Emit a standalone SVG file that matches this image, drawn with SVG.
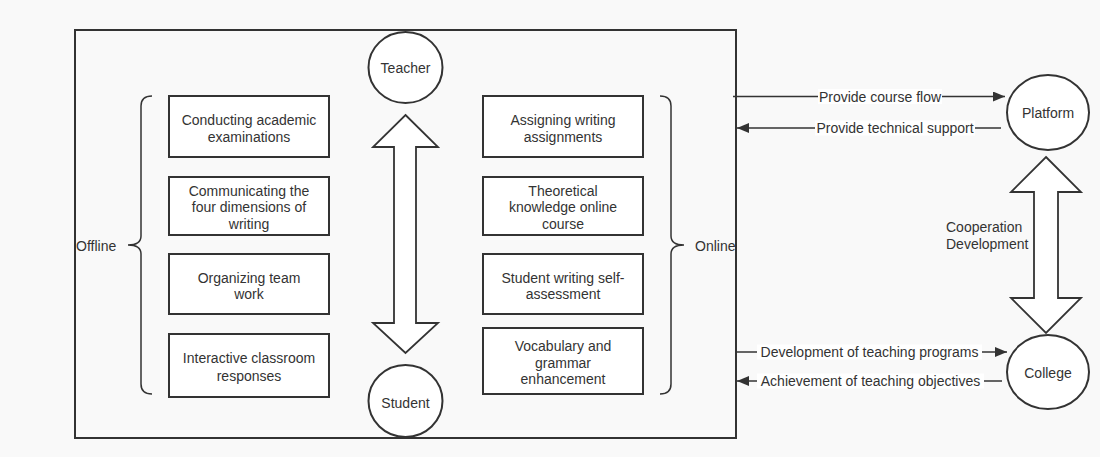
<svg xmlns="http://www.w3.org/2000/svg" width="1100" height="457" viewBox="0 0 1100 457">
<defs>
<style>
.box{fill:#fff;stroke:#333;stroke-width:2}
.circ{fill:#fff;stroke:#333;stroke-width:2}
.t{font-family:"Liberation Sans",Arial,sans-serif;font-size:14px;fill:#333;text-anchor:middle}
.tl{font-family:"Liberation Sans",Arial,sans-serif;font-size:14px;fill:#333}
.line{stroke:#333;stroke-width:1.5;fill:none}
.big{fill:#fff;stroke:#333;stroke-width:1.8;stroke-linejoin:miter}
.lbg{fill:#fff}
</style>
<marker id="ah" viewBox="0 0 12 10" refX="12" refY="5" markerWidth="12" markerHeight="10" markerUnits="userSpaceOnUse" orient="auto">
<path d="M0,0 L12,5 L0,10 Z" fill="#333"/>
</marker>
</defs>
<rect x="0" y="0" width="1100" height="457" fill="#f9f9f9"/>
<g id="frame">
<rect x="75" y="30" width="661" height="408" fill="none" stroke="#333" stroke-width="2"/>
</g>
<g id="teacher">
<ellipse class="circ" cx="405.5" cy="67.5" rx="37" ry="35.5"/>
<text class="t" x="405.5" y="72.5">Teacher</text>
</g>
<g id="student">
<ellipse class="circ" cx="405.5" cy="401" rx="37" ry="36"/>
<text class="t" x="405.5" y="408">Student</text>
</g>
<g id="teacher-student-arrow">
<polygon class="big" points="405.5,115 438,147 416,147 416,323 438,323 405.5,353 373,323 394,323 394,147 373,147"/>
</g>
<g id="offline-brace">
<path class="line" d="M152,96 Q141,96 141,106 L141,236 Q141,245 128,245 Q141,245 141,254 L141,384 Q141,394 152,394"/>
<text class="tl" x="76" y="251">Offline</text>
</g>
<g id="online-brace">
<path class="line" d="M660,96 Q671,96 671,106 L671,236 Q671,245 684,245 Q671,245 671,254 L671,384 Q671,394 660,394"/>
<text class="tl" x="695" y="251">Online</text>
</g>
<g id="off1">
<rect class="box" x="169" y="96" width="160" height="61"/>
<text class="t" x="249" y="125">Conducting academic</text>
<text class="t" x="249" y="142">examinations</text>
</g>
<g id="off2">
<rect class="box" x="169" y="177" width="160" height="58"/>
<text class="t" x="249" y="196">Communicating the</text>
<text class="t" x="249" y="212">four dimensions of</text>
<text class="t" x="249" y="229">writing</text>
</g>
<g id="off3">
<rect class="box" x="169" y="254" width="160" height="60"/>
<text class="t" x="249" y="283">Organizing team</text>
<text class="t" x="249" y="299">work</text>
</g>
<g id="off4">
<rect class="box" x="169" y="334" width="160" height="63"/>
<text class="t" x="249" y="363">Interactive classroom</text>
<text class="t" x="249" y="381">responses</text>
</g>
<g id="on1">
<rect class="box" x="483" y="96" width="160" height="61"/>
<text class="t" x="563" y="125">Assigning writing</text>
<text class="t" x="563" y="142">assignments</text>
</g>
<g id="on2">
<rect class="box" x="483" y="177" width="160" height="58"/>
<text class="t" x="563" y="196">Theoretical</text>
<text class="t" x="563" y="212">knowledge online</text>
<text class="t" x="563" y="229">course</text>
</g>
<g id="on3">
<rect class="box" x="483" y="254" width="160" height="60"/>
<text class="t" x="563" y="283">Student writing self-</text>
<text class="t" x="563" y="299">assessment</text>
</g>
<g id="on4">
<rect class="box" x="483" y="328" width="160" height="66"/>
<text class="t" x="563" y="351">Vocabulary and</text>
<text class="t" x="563" y="368">grammar</text>
<text class="t" x="563" y="384">enhancement</text>
</g>
<g id="platform">
<ellipse class="circ" cx="1048" cy="112.5" rx="41" ry="37.5"/>
<text class="t" x="1048" y="118">Platform</text>
</g>
<g id="college">
<ellipse class="circ" cx="1048" cy="372" rx="41" ry="37"/>
<text class="t" x="1048" y="378">College</text>
</g>
<g id="cooperation">
<polygon class="big" points="1046,157 1081,192 1058,192 1058,298 1081,298 1046,333 1011,298 1034,298 1034,192 1011,192"/>
<text class="tl" x="946" y="232">Cooperation</text>
<text class="tl" x="946" y="249">Development</text>
</g>
<g id="connectors">
<line class="line" x1="733" y1="96.5" x2="1005" y2="96.5" marker-end="url(#ah)"/>
<line class="line" x1="1001" y1="128" x2="737" y2="128" marker-end="url(#ah)"/>
<line class="line" x1="736" y1="352" x2="1007" y2="352" marker-end="url(#ah)"/>
<line class="line" x1="1002" y1="381" x2="737" y2="381" marker-end="url(#ah)"/>
<rect class="lbg" x="818" y="89" width="124" height="15"/>
<text class="t" x="880" y="101.5">Provide course flow</text>
<rect class="lbg" x="815" y="120.5" width="160" height="15"/>
<text class="t" x="895" y="133">Provide technical support</text>
<rect class="lbg" x="757" y="344.5" width="225" height="15"/>
<text class="t" x="869.5" y="357">Development of teaching programs</text>
<rect class="lbg" x="757" y="373.5" width="227" height="15"/>
<text class="t" x="870.5" y="386">Achievement of teaching objectives</text>
</g>
</svg>
